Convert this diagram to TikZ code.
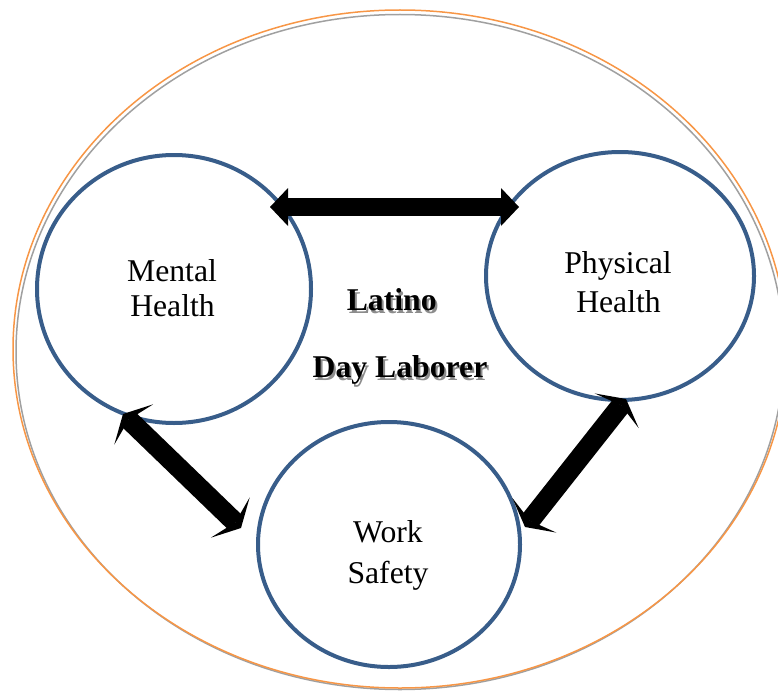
\documentclass[tikz,border=0pt]{standalone}
\usepackage{fontspec}
\setmainfont{Liberation Serif}
\usetikzlibrary{shapes.geometric,arrows.meta,calc}
\definecolor{cblue}{RGB}{56,93,138}
\definecolor{corange}{RGB}{247,150,70}
\definecolor{cshadow}{RGB}{160,160,160}
\definecolor{tshadow}{RGB}{140,140,140}
\newcommand{\shadowtext}[1]{\rlap{\hspace{2pt}\raisebox{-3pt}{\textcolor{tshadow}{#1}}}#1}
\begin{document}
\begin{tikzpicture}[x=1pt,y=-1pt,
  ring/.style={draw=cblue,line width=4pt,ellipse,inner sep=0pt},
  bigring/.style={ellipse,inner sep=0pt,line width=1.5pt},
  lbl/.style={anchor=base,inner sep=0pt,font=\fontsize{31.7}{38}\selectfont},
  blbl/.style={anchor=base,inner sep=0pt,font=\fontsize{31.7}{38}\selectfont\bfseries},
  flatarrow/.style={line width=18pt,{Triangle[length=18pt,width=38pt,line width=0pt]}-{Triangle[length=18pt,width=38pt,line width=0pt]}},
  diagarrow/.style={line width=20pt,{Stealth[length=15pt,width=56pt,inset=7pt,line width=0pt]}-{Stealth[length=15pt,width=56pt,inset=7pt,line width=0pt]}}
]
\useasboundingbox (0,0) rectangle (778,690);
% outer ellipse with shadow
\node[bigring,draw=cshadow,minimum width=768pt,minimum height=675pt] (outershadow) at (400,352) {};
\node[bigring,draw=corange,minimum width=774pt,minimum height=678pt] (outer) at (400,349) {};
% circles
\node[ring,minimum width=274pt,minimum height=268pt] (mh) at (174,289) {};
\node[ring,minimum width=268pt,minimum height=248pt] (ph) at (620,276) {};
\node[ring,minimum width=262pt,minimum height=245pt] (ws) at (389,544.5) {};
% labels
\node[lbl] (mh1) at (172,281) {Mental};
\node[lbl] (mh2) at (172.5,316) {Health};
\node[lbl] (ph1) at (618,273) {Physical};
\node[lbl] (ph2) at (618.5,312) {Health};
\node[lbl] (ws1) at (388,542) {Work};
\node[lbl] (ws2) at (388,583) {Safety};
% centre text with shadow
\node[blbl] (lat) at (391.7,310) {\shadowtext{Latino}};
\node[blbl] (day) at (400,377) {\shadowtext{Day Laborer}};
% arrows
\draw[flatarrow] ($(mh.center)+(96,-82)$) -- ($(ph.center)+(-101,-69)$);
\draw[diagarrow] ($(mh.center)+(-51,125)$) -- ($(ws.center)+(-148,-16.5)$);
\draw[diagarrow] ($(ws.center)+(136,-17.5)$) -- ($(ph.center)+(6,123)$);
\end{tikzpicture}
\end{document}
